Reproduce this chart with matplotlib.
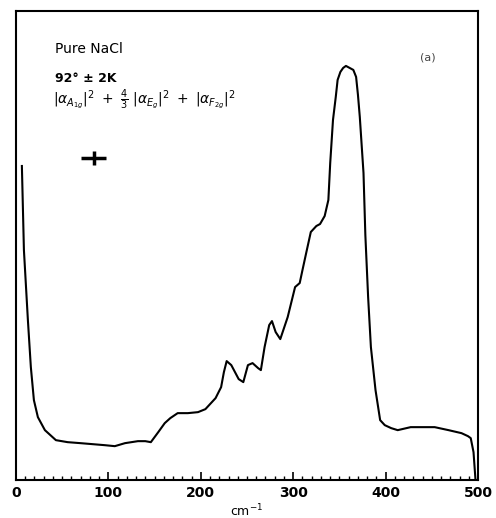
import matplotlib
matplotlib.use('Agg')
import matplotlib.pyplot as plt
from matplotlib.ticker import MultipleLocator

# Raman spectrum of pure NaCl (arbitrary intensity units).
shift = [6.5, 8.7, 13, 16.2, 19.5, 23.8, 31.4, 43.3, 56, 70, 83, 96, 107, 118,
         132, 140, 146, 154, 161, 167, 175, 186, 197, 205, 216, 222, 225, 228,
         233, 237, 241, 246, 251, 256, 262, 265, 269, 274, 277, 281, 286, 290,
         294, 302, 307, 310, 314, 319, 325, 329, 334, 338, 340, 343, 346, 348,
         351, 354, 357, 361, 365, 368, 370, 372, 376, 378, 381, 384, 389, 394,
         399, 406, 413, 427, 440, 453, 468, 482, 489, 492, 495, 497]
intensity = [314, 230, 160, 113, 80, 63, 50, 40, 38, 37, 36, 35, 34, 37,
             39, 39, 38, 48, 57, 62, 67, 67, 68, 71, 82, 93, 108, 119,
             115, 108, 101, 98, 115, 117, 112, 110, 133, 155, 159, 148, 141, 152,
             163, 193, 197, 210, 227, 248, 254, 256, 264, 280, 317, 360, 383, 400,
             408, 412, 414, 412, 410, 403, 385, 363, 307, 245, 183, 133, 90, 60,
             55, 52, 50, 53, 53, 53, 50, 47, 44, 42, 28, 2]

# resolution / error cross
cross_x, cross_y = 84, 322
cross_dx, cross_dy = 14, 7

fig = plt.figure(figsize=(4.96, 5.18), dpi=100)
ax = fig.add_axes([0.032, 0.073, 0.932, 0.906])

ax.plot(shift, intensity, color='black', lw=1.5)
ax.errorbar(cross_x, cross_y, xerr=cross_dx, yerr=cross_dy, fmt='none',
            ecolor='black', elinewidth=2.5, capsize=0)

ax.set_xlim(0, 500)
ax.set_ylim(0, 469)
ax.xaxis.set_major_locator(MultipleLocator(100))
ax.xaxis.set_minor_locator(MultipleLocator(10))
ax.tick_params(axis='x', which='major', direction='in', length=6, width=1.2,
               labelsize=10, pad=4)
ax.tick_params(axis='x', which='minor', direction='in', length=3, width=1)
ax.set_yticks([])
for lab in ax.get_xticklabels():
    lab.set_fontweight('bold')
for sp in ax.spines.values():
    sp.set_linewidth(1.5)

ax.set_xlabel(r'cm$^{-1}$', fontsize=9, labelpad=2)

# Annotations
ax.text(0.084, 0.91, 'Pure NaCl', transform=ax.transAxes, fontsize=10)
ax.text(0.084, 0.849, '92° ± 2K', transform=ax.transAxes, fontsize=9,
        fontweight='bold')
ax.text(0.08, 0.81,
        r'$|\alpha_{A_{1g}}|^2\ +\ \frac{4}{3}\ |\alpha_{E_g}|^2\ +\ |\alpha_{F_{2g}}|^2$',
        transform=ax.transAxes, fontsize=10, va='center')
ax.text(0.874, 0.90, '(a)', transform=ax.transAxes, fontsize=8,
        color='#444444', va='center')

fig.savefig('out.png', dpi=100)
